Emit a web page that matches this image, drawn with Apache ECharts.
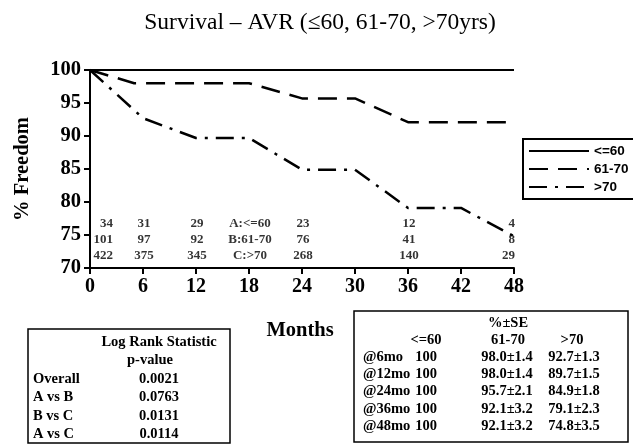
<!DOCTYPE html>
<html>
<head>
<meta charset="utf-8">
<script src="https://cdn.jsdelivr.net/npm/echarts@6/dist/echarts.min.js"></script>
<style>html,body{margin:0;padding:0;background:#fff}#c{width:633px;height:446px}</style>
</head>
<body>
<div id="c"></div>
<script>
// ---- data ----
var seriesNames = ['<=60', '61-70', '>70'];
var monthsA = [0, 48];
var valuesA = [100, 100];
var monthsB = [0, 5, 18, 24, 30, 36, 48];
var valuesB = [100, 98.0, 98.0, 95.7, 95.7, 92.1, 92.1];
var monthsC = [0, 6, 12, 18, 24, 30, 36, 42, 48];
var valuesC = [100, 92.7, 89.7, 89.7, 84.9, 84.9, 79.1, 79.1, 74.8];
var xTicks = [0, 6, 12, 18, 24, 30, 36, 42, 48];
var yTicks = [70, 75, 80, 85, 90, 95, 100];
var riskMonths = [0, 6, 12, 18, 24, 36, 48];
var riskA = ['34', '31', '29', 'A:<=60', '23', '12', '4'];
var riskB = ['101', '97', '92', 'B:61-70', '76', '41', '8'];
var riskC = ['422', '375', '345', 'C:>70', '268', '140', '29'];
var logRankRows = ['Overall', 'A vs B', 'B vs C', 'A vs C'];
var logRankP = ['0.0021', '0.0763', '0.0131', '0.0114'];
var seTimes = ['@6mo', '@12mo', '@24mo', '@36mo', '@48mo'];
var seA = ['100', '100', '100', '100', '100'];
var seB = ['98.0±1.4', '98.0±1.4', '95.7±2.1', '92.1±3.2', '92.1±3.2'];
var seC = ['92.7±1.3', '89.7±1.5', '84.9±1.8', '79.1±2.3', '74.8±3.5'];

// ---- build ----
var serif = 'Liberation Serif';
var sans = 'Liberation Sans';
function pairs(xs, ys) { return xs.map(function (x, i) { return [x, ys[i]]; }); }

var rowLevels = [76.7, 74.3, 71.9];
var riskRows = [riskA, riskB, riskC];
var riskData = [];
riskRows.forEach(function (row, r) {
  row.forEach(function (t, i) {
    var last = i === row.length - 1, first = i === 0;
    riskData.push({
      value: [riskMonths[i], rowLevels[r]],
      label: {
        formatter: t,
        align: (first || last) ? 'right' : 'center',
        offset: first ? [23, 0] : [1, 0]
      }
    });
  });
});

var graphics = [];
function txt(x, y, s, opt) {
  opt = opt || {};
  graphics.push({
    type: 'text', x: x, y: y,
    style: {
      text: s, fill: '#000',
      font: (opt.weight || 'bold') + ' ' + (opt.size || 14.5) + 'px "' + (opt.family || serif) + '"',
      textAlign: opt.align || 'left', textVerticalAlign: 'middle'
    }
  });
}
// title
txt(320, 23, 'Survival – AVR (≤60, 61-70, >70yrs)', { weight: 'normal', size: 23.5, align: 'center' });
// Months
txt(300, 331, 'Months', { size: 20.5, align: 'center' });
// left table
graphics.push({ type: 'rect', shape: { x: 28, y: 329, width: 202, height: 114 }, style: { fill: 'none', stroke: '#000', lineWidth: 1.5 } });
txt(159, 342, 'Log Rank Statistic', { align: 'center' });
txt(150, 360, 'p-value', { align: 'center' });
logRankRows.forEach(function (r, i) {
  txt(33, 379 + i * 18.5, r);
  txt(159, 379 + i * 18.5, logRankP[i], { align: 'center' });
});
// right table
graphics.push({ type: 'rect', shape: { x: 354, y: 311, width: 274, height: 131 }, style: { fill: 'none', stroke: '#000', lineWidth: 1.5 } });
txt(508, 323, '%±SE', { align: 'center' });
txt(426, 340, seriesNames[0], { align: 'center' });
txt(508, 340, seriesNames[1], { align: 'center' });
txt(572, 340, seriesNames[2], { align: 'center' });
seTimes.forEach(function (t, i) {
  var y = 357 + i * 17.3;
  txt(363, y, t);
  txt(426, y, seA[i], { align: 'center' });
  txt(507, y, seB[i], { align: 'center' });
  txt(574, y, seC[i], { align: 'center' });
});

var chart = echarts.init(document.getElementById('c'));
chart.setOption({
  animation: false,
  backgroundColor: '#fff',
  grid: { left: 90, right: 119, top: 70, bottom: 178 },
  xAxis: {
    type: 'value', min: xTicks[0], max: xTicks[xTicks.length - 1], interval: 6,
    axisLine: { lineStyle: { color: '#000', width: 2 } },
    axisTick: { show: true, length: 6, lineStyle: { color: '#000', width: 2 } },
    axisLabel: { color: '#000', fontFamily: serif, fontWeight: 'bold', fontSize: 20, margin: 9 },
    splitLine: { show: false }
  },
  yAxis: {
    type: 'value', min: yTicks[0], max: yTicks[yTicks.length - 1], interval: 5,
    name: '% Freedom', nameLocation: 'middle', nameGap: 57, nameRotate: 90,
    nameTextStyle: { color: '#000', fontFamily: serif, fontWeight: 'bold', fontSize: 20.5 },
    axisLine: { show: true, lineStyle: { color: '#000', width: 2 } },
    axisTick: { show: true, length: 6, lineStyle: { color: '#000', width: 2 } },
    axisLabel: { color: '#000', fontFamily: serif, fontWeight: 'bold', fontSize: 20.5, margin: 9 },
    splitLine: { show: false }
  },
  legend: {
    data: seriesNames, orient: 'vertical', left: 523, top: 139,
    itemWidth: 60, itemHeight: 12, itemGap: 4,
    padding: [5, 40, 5, 5],
    borderColor: '#000', borderWidth: 2,
    itemStyle: { opacity: 0 },
    textStyle: { color: '#000', fontFamily: sans, fontWeight: 'bold', fontSize: 13.5 },
    selectedMode: false
  },
  series: [
    { name: seriesNames[0], type: 'line', symbol: 'none', data: pairs(monthsA, valuesA),
      lineStyle: { color: '#000', width: 1.8, type: 'solid' }, itemStyle: { color: '#000' } },
    { name: seriesNames[1], type: 'line', symbol: 'none', data: pairs(monthsB, valuesB),
      lineStyle: { color: '#000', width: 2.5, type: [19, 10] }, itemStyle: { color: '#000' } },
    { name: seriesNames[2], type: 'line', symbol: 'none', data: pairs(monthsC, valuesC),
      lineStyle: { color: '#000', width: 2.5, type: [18, 8, 3, 8] }, itemStyle: { color: '#000' } },
    { name: 'risk', type: 'scatter', symbolSize: 0, data: riskData, silent: true,
      label: { show: true, position: 'inside', color: '#000', fontFamily: serif, fontWeight: 'bold', fontSize: 13 } }
  ],
  graphic: graphics
});
</script>
</body>
</html>
